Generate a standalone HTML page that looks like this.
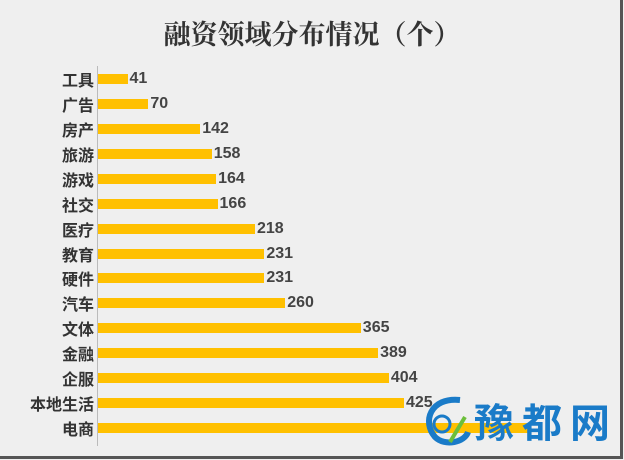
<!DOCTYPE html>
<html><head><meta charset="utf-8"><style>
html,body{margin:0;padding:0}
body{width:624px;height:460px;background:#efefef;position:relative;overflow:hidden;font-family:"Liberation Sans","Noto Sans CJK SC",sans-serif}
.frame{position:absolute;left:0;top:0;width:620px;height:456px;border-right:3px solid #555;border-bottom:3px solid #555;box-sizing:content-box}
.title{position:absolute;top:13px;left:0;width:624px;text-align:center;font-size:27px;color:#333;font-weight:bold;font-family:"Noto Serif CJK SC","Noto Sans CJK SC",serif}
.axis{position:absolute;left:97px;top:66px;width:1px;height:380px;background:#bbb}
.lab{position:absolute;right:530px;font-size:16px;color:#333;font-weight:bold;font-family:"Noto Sans CJK SC",sans-serif;line-height:18px}
.bar{position:absolute;left:98px;height:10px;background:#ffc000}
.val{position:absolute;font-size:16px;font-weight:bold;color:#444;line-height:18px}
.logo{position:absolute;left:474px;top:396px;font-size:40px;font-weight:bold;color:#1a7bc8;letter-spacing:8px;font-family:"Noto Sans CJK SC",sans-serif;line-height:48px}
</style></head><body>
<div class="frame"></div>
<div class="title">融资领域分布情况（个）</div>
<div class="axis"></div>
<div id="c"></div>
<svg style="position:absolute;left:420px;top:392px" width="52" height="62"><path d="M40 8 C10 5 2 30 15 45 C25 55 45 50 48 40" stroke="#1a7bc8" stroke-width="6" fill="none"/><circle cx="22" cy="32" r="8" stroke="#1a7bc8" stroke-width="3" fill="none"/><path d="M30 50 L45 25" stroke="#6cbf3a" stroke-width="4"/></svg>
<div class="logo">豫都网</div>
<script>
var d=[["工具",41],["广告",70],["房产",142],["旅游",158],["游戏",164],["社交",166],["医疗",218],["教育",231],["硬件",231],["汽车",260],["文体",365],["金融",389],["企服",404],["本地生活",425],["电商",597]];
var h="";
d.forEach(function(r,i){var y=79+i*24.93;var w=r[1]*0.72;
h+='<div class="lab" style="top:'+(y-9)+'px">'+r[0]+'</div>';
h+='<div class="bar" style="top:'+(y-5)+'px;width:'+w+'px"></div>';
if(i<14)h+='<div class="val" style="top:'+(y-9)+'px;left:'+(100+w)+'px">'+r[1]+'</div>';});
document.getElementById("c").innerHTML=h;
</script>
</body></html>
